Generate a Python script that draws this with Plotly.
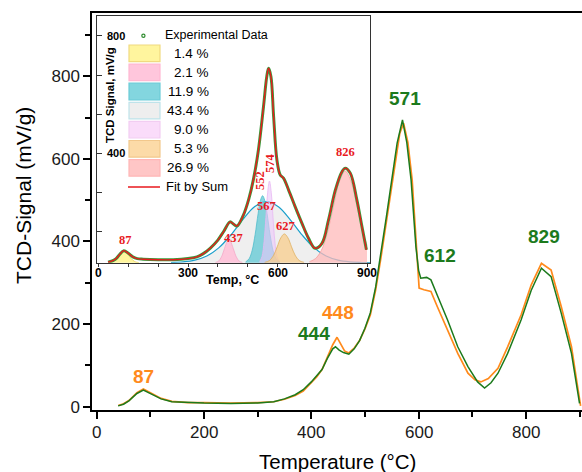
import plotly.graph_objects as go

W, H = 582, 472

# ---------------- main chart data ----------------
T_orange = [40, 50, 60, 75, 87, 100, 120, 140, 170, 200, 250, 300, 330, 350, 370, 385, 400, 410, 420, 430,
            440, 448, 455, 462, 470, 480, 490, 500, 510, 520, 530, 540, 550, 560, 565, 572, 580, 588, 597,
            601, 610, 623, 635, 654, 673, 692, 705, 716, 730, 748, 766, 791, 810, 829, 847, 866, 885, 895, 902]
v_orange = [3, 7, 15, 34, 43, 34, 20, 13, 10, 10, 9, 10, 12, 18, 27, 38, 57, 72, 90, 120,
            150, 168, 150, 135, 130, 142, 160, 188, 222, 283, 362, 450, 540, 625, 662, 686, 640, 549, 370,
            287, 283, 279, 242, 186, 129, 81, 65, 60, 68, 93, 145, 222, 295, 347, 331, 242, 145, 60, 2]

T_green = [40, 50, 60, 75, 87, 100, 120, 140, 170, 200, 250, 300, 330, 350, 370, 385, 400, 410, 420, 430,
           440, 445, 452, 460, 470, 480, 490, 500, 510, 520, 530, 540, 550, 560, 570, 578, 586, 595, 600,
           604, 615, 623, 636, 654, 673, 692, 710, 723, 735, 748, 766, 791, 810, 829, 847, 866, 885, 895, 900]
v_green = [2, 6, 14, 32, 40, 32, 19, 12, 10, 9, 8, 9, 12, 19, 29, 41, 60, 74, 90, 117,
           140, 145, 137, 131, 127, 140, 160, 190, 227, 290, 372, 460, 549, 638, 694, 640, 549, 387, 330,
           311, 313, 307, 266, 210, 145, 97, 60, 45, 58, 81, 129, 210, 282, 335, 315, 226, 129, 45, 8]

main_xticks = [0, 200, 400, 600, 800]
peak_labels_orange = [(87, 74, "87"), (449, 229, "448")]
peak_labels_green = [(405, 178, "444"), (575, 745, "571"), (640, 365, "612"), (834, 413, "829")]

# ---------------- inset data ----------------
T_exp = [32, 40, 50, 60, 70, 85, 100, 115, 130, 150, 200, 250, 300, 330, 350, 375, 400, 420, 441, 452,
         464, 486, 503, 519, 536, 553, 564, 570, 578, 587, 598, 609, 620, 637, 659, 682, 704, 726, 749,
         771, 794, 816, 827, 844, 866, 883, 898]
v_exp = [30, 32, 36, 43, 55, 69, 60, 48, 42, 40, 38, 38, 42, 48, 58, 78, 105, 135, 167, 160,
         153, 191, 242, 310, 412, 559, 662, 690, 662, 525, 378, 327, 316, 276, 219, 162, 111, 77, 94,
         174, 276, 338, 350, 333, 242, 151, 72]

comp_T = [
    [35, 45, 55, 65, 75, 85, 95, 105, 115, 125, 135],
    [392, 402, 412, 422, 432, 437, 442, 452, 462, 472, 482],
    [493, 505, 515, 525, 535, 543, 550, 557, 565, 575, 585, 595, 607],
    [243, 283, 323, 363, 403, 443, 483, 523, 563, 603, 643, 683, 723, 763, 803, 843, 883, 910],
    [540, 548, 555, 561, 567, 573, 579, 585, 591, 598, 606],
    [557, 573, 587, 599, 611, 623, 635, 647, 659, 673, 689],
    [707, 727, 747, 767, 787, 807, 827, 847, 867, 887, 900],
]
comp_v = [
    [28.5, 30.5, 36.4, 48, 61.6, 68, 61.6, 48, 36.4, 30.5, 28.5],
    [28.9, 33.1, 47.5, 75.3, 101.8, 106, 101.8, 75.3, 47.5, 33.1, 28.9],
    [30.5, 41.8, 69.8, 123.9, 194.9, 241, 256, 241, 194.9, 123.9, 69.8, 41.8, 30.5],
    [28.7, 30.7, 36.6, 50.7, 78.4, 121.7, 173.9, 218.4, 236, 218.4, 173.9, 121.7, 78.4, 50.7, 36.6, 30.7, 28.7, 28.2],
    [31.1, 49, 100.9, 181.3, 267.6, 306, 267.6, 181.3, 100.9, 49, 31.1],
    [29.1, 35.4, 53.7, 82, 112.5, 126, 112.5, 82, 53.7, 35.4, 29.1],
    [31.5, 41.7, 70.2, 129.3, 217.2, 303.3, 340, 303.3, 217.2, 129.3, 87],
]
comp_pct = ["1.4 %", "2.1 %", "11.9 %", "43.4 %", "9.0 %", "5.3 %", "26.9 %"]
comp_fill = ["rgba(255,243,140,0.85)", "rgba(255,190,215,0.85)", "rgba(95,200,212,0.75)",
             "rgba(228,228,228,0.6)", "rgba(235,200,250,0.6)", "rgba(248,205,140,0.75)",
             "rgba(255,185,185,0.75)"]
comp_line = ["#E6CF5C", "#F5A8C8", "#4FBCCB", "#1A9FCB", "#E9B8F2", "#E0B060", "#F7A0A0"]
legend_fill = ["#FFF59E", "#FFC6DC", "#83D6DF", "#EEEEEE", "#FADCFA", "#FCDBA8", "#FFC6C6"]
legend_border = ["#F0DA80", "#FFB8D2", "#6CCCD8", "#BFE3EA", "#F2CDF2", "#F2C88C", "#FFB6B6"]
inset_labels = [(89, 106, "87", 0), (454, 112, "437", 0), (564, 221, "567", 0), (628, 153, "627", 0),
                (829, 406, "826", 0), (539, 307, "552", -90), (573, 369, "574", -90)]
inset_yticks = [400, 800]
inset_xticks = [0, 300, 600, 900]

ORANGE = "#FF8A1C"
GREEN = "#1C7A1C"
RED = "#E8191E"

fig = go.Figure()
fig.add_trace(go.Scatter(x=T_orange, y=v_orange, mode="lines", line=dict(color=ORANGE, width=1.7),
                         xaxis="x", yaxis="y"))
fig.add_trace(go.Scatter(x=T_green, y=v_green, mode="lines", line=dict(color=GREEN, width=1.5),
                         xaxis="x", yaxis="y"))

# inset components: broad one first
order = [3, 2, 4, 5, 1, 0, 6]
for i in order:
    fig.add_trace(go.Scatter(x=comp_T[i], y=comp_v[i], mode="lines", fill="tozeroy",
                             fillcolor=comp_fill[i], line=dict(color=comp_line[i], width=1.2 if i == 3 else 0.8,
                                                               shape="spline"),
                             xaxis="x2", yaxis="y2"))
fig.add_trace(go.Scatter(x=T_exp, y=v_exp, mode="lines", line=dict(color="#3A9A3A", width=3.0, shape="spline"),
                         xaxis="x2", yaxis="y2"))
fig.add_trace(go.Scatter(x=T_exp, y=v_exp, mode="lines", line=dict(color=RED, width=1.4, shape="spline"),
                         xaxis="x2", yaxis="y2"))


def fx(p):
    return p / W


def fy(p):
    return 1 - p / H


FONT = "Liberation Sans, Arial, sans-serif"
SERIF = "Liberation Serif, Times New Roman, serif"

annotations = []
for t in main_xticks:
    annotations.append(dict(x=t, y=fy(432), xref="x", yref="paper", text=str(t), showarrow=False,
                            xanchor="center", yanchor="middle",
                            font=dict(family=FONT, size=17, color="#1a1a1a")))
for x, y, t in peak_labels_orange:
    annotations.append(dict(x=x, y=y, xref="x", yref="y", text=t, showarrow=False,
                            xanchor="center", yanchor="middle",
                            font=dict(family=FONT, size=19, color=ORANGE, weight="bold")))
for x, y, t in peak_labels_green:
    annotations.append(dict(x=x, y=y, xref="x", yref="y", text=t, showarrow=False,
                            xanchor="center", yanchor="middle",
                            font=dict(family=FONT, size=19, color=GREEN, weight="bold")))
for x, y, t, ang in inset_labels:
    annotations.append(dict(x=x, y=y, xref="x2", yref="y2", text=t, showarrow=False, textangle=ang,
                            xanchor="center", yanchor="middle",
                            font=dict(family=SERIF, size=12.5, color=RED, weight="bold")))

# inset y tick labels (inside the frame)
for v in inset_yticks:
    annotations.append(dict(x=fx(104.5), y=v, xref="paper", yref="y2", text=str(v), showarrow=False,
                            xanchor="left", yanchor="middle",
                            font=dict(family=FONT, size=11, color="black", weight="bold")))
# inset x tick labels
for t in inset_xticks:
    annotations.append(dict(x=t, y=fy(273), xref="x2", yref="paper", text=str(t), showarrow=False,
                            xanchor="center", yanchor="middle",
                            font=dict(family=FONT, size=12, color="black", weight="bold")))

# axis titles
annotations.append(dict(x=fx(337), y=fy(461), xref="paper", yref="paper", text="Temperature (°C)",
                        xanchor="center", yanchor="middle",
                        showarrow=False, font=dict(family=FONT, size=20.5, color="black")))
annotations.append(dict(x=fx(23), y=fy(196), xref="paper", yref="paper", text="TCD-Signal (mV/g)",
                        xanchor="center", yanchor="middle",
                        textangle=-90, showarrow=False, font=dict(family=FONT, size=21, color="black")))
annotations.append(dict(x=fx(232), y=fy(280), xref="paper", yref="paper", text="Temp, °C",
                        xanchor="center", yanchor="middle",
                        showarrow=False, font=dict(family=FONT, size=12.5, color="black", weight="bold")))
annotations.append(dict(x=fx(110), y=fy(95), xref="paper", yref="paper", text="TCD Signal, mV/g",
                        xanchor="center", yanchor="middle",
                        textangle=-90, showarrow=False, font=dict(family=FONT, size=11.5, color="black", weight="bold")))

# inset legend (drawn)
shapes = []
row0 = 53.3
pitch = 19.1
for k in range(7):
    cy = row0 + k * pitch
    shapes.append(dict(type="rect", xref="paper", yref="paper", x0=fx(129), x1=fx(160),
                       y0=fy(cy + 8.3), y1=fy(cy - 8.3), fillcolor=legend_fill[k],
                       line=dict(color=legend_border[k], width=1.2), layer="above"))
    annotations.append(dict(x=fx(211), y=fy(cy), xref="paper", yref="paper", text=comp_pct[k],
                            xanchor="right", yanchor="middle", showarrow=False,
                            font=dict(family=FONT, size=13.5, color="black")))
fit_y = row0 + 7 * pitch
shapes.append(dict(type="line", xref="paper", yref="paper", x0=fx(128), x1=fx(160), y0=fy(fit_y), y1=fy(fit_y),
                   line=dict(color=RED, width=1.5), layer="above"))
annotations.append(dict(x=fx(164), y=fy(fit_y), xref="paper", yref="paper", text="Fit by Sum",
                        xanchor="left", yanchor="middle", showarrow=False,
                        font=dict(family=FONT, size=13, color="black")))
shapes.append(dict(type="circle", xref="paper", yref="paper", x0=fx(141.8), x1=fx(145), y0=fy(37.3), y1=fy(34.1),
                   line=dict(color="#2E8B2E", width=1.2), fillcolor="white", layer="above"))
annotations.append(dict(x=fx(163), y=fy(35.5), xref="paper", yref="paper", text="Experimental Data",
                        xanchor="left", yanchor="middle", showarrow=False,
                        font=dict(family=FONT, size=12.5, color="black")))

fig.update_layout(
    width=W, height=H, margin=dict(l=0, r=0, t=0, b=0), showlegend=False,
    paper_bgcolor="white", plot_bgcolor="white",
    xaxis=dict(domain=[fx(92.3), 1.0], range=[-8.2, 904.6], anchor="y",
               showline=True, linewidth=2, linecolor="black", mirror=True,
               ticks="outside", ticklen=7, tickwidth=1.5, tickcolor="black", tick0=0, dtick=200,
               showticklabels=False,
               minor=dict(dtick=100, tick0=0, ticks="outside", ticklen=5, tickwidth=1.5, tickcolor="black"),
               showgrid=False, zeroline=False, automargin=False),
    yaxis=dict(domain=[fy(410), fy(13)], range=[-8, 953], anchor="x",
               showline=True, linewidth=2, linecolor="black", mirror=True,
               ticks="outside", ticklen=7, tickwidth=1.5, tickcolor="black", tick0=0, dtick=200,
               minor=dict(dtick=100, tick0=0, ticks="outside", ticklen=5, tickwidth=1.5, tickcolor="black"),
               tickfont=dict(family=FONT, size=17, color="#1a1a1a"),
               showgrid=False, zeroline=False, automargin=False),
    xaxis2=dict(domain=[fx(97), fx(370)], range=[-5, 910], anchor="y2",
                showline=True, linewidth=1, linecolor="#333333", mirror=True,
                tickvals=inset_xticks, ticks="outside", ticklen=3, tickwidth=1, tickcolor="#333333",
                showticklabels=False,
                minor=dict(tickvals=[100, 200, 400, 500, 700, 800], ticks="outside", ticklen=3,
                           tickwidth=1, tickcolor="#333333"),
                showgrid=False, zeroline=False, automargin=False),
    yaxis2=dict(domain=[fy(262.7), fy(16)], range=[28, 868], anchor="x2",
                showline=True, linewidth=1, linecolor="#333333", mirror=True,
                tickvals=inset_yticks, ticks="inside", ticklen=5, tickwidth=1, tickcolor="#333333",
                showticklabels=False,
                minor=dict(tickvals=[133.3, 266.7, 533.3, 666.7], ticks="inside", ticklen=5,
                           tickwidth=1, tickcolor="#333333"),
                showgrid=False, zeroline=False, automargin=False),
    annotations=annotations, shapes=shapes,
)

fig.write_html("out.html")
